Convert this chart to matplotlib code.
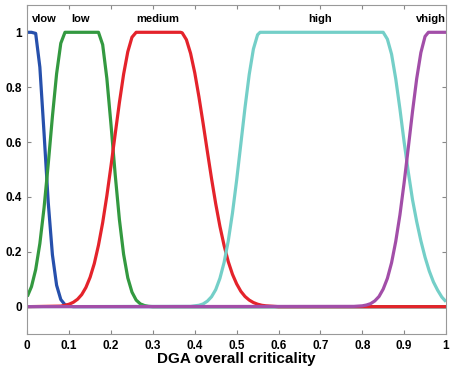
import matplotlib
matplotlib.use("Agg")
import matplotlib.pyplot as plt

# membership functions (x: criticality, y: membership)
vlow_x = [0.0, 0.01, 0.02, 0.03, 0.04, 0.05, 0.06, 0.07, 0.08, 0.09, 0.10, 0.11, 1.0]
vlow_y = [1.0, 1.0, 0.996, 0.873, 0.633, 0.380, 0.189, 0.078, 0.026, 0.007, 0.002, 0.0, 0.0]

low_x = [0.0, 0.01, 0.02, 0.03, 0.04, 0.05, 0.06, 0.07, 0.08, 0.09, 0.17,
         0.18, 0.19, 0.20, 0.21, 0.22, 0.23, 0.24, 0.25, 0.26, 0.27, 0.28, 0.29, 0.30, 1.0]
low_y = [0.037, 0.073, 0.135, 0.230, 0.360, 0.520, 0.693, 0.849, 0.960, 1.0, 1.0,
         0.955, 0.832, 0.662, 0.480, 0.317, 0.191, 0.105, 0.053, 0.024, 0.010, 0.004, 0.001, 0.0, 0.0]

medium_x = [0.0, 0.08, 0.09, 0.10, 0.11, 0.12, 0.13, 0.14, 0.15, 0.16, 0.17, 0.18, 0.19,
            0.20, 0.21, 0.22, 0.23, 0.24, 0.25, 0.26, 0.366,
            0.37, 0.38, 0.39, 0.40, 0.41, 0.42, 0.43, 0.44, 0.45, 0.46, 0.47, 0.48, 0.49,
            0.50, 0.51, 0.52, 0.53, 0.54, 0.55, 0.56, 0.57, 0.58, 0.60, 1.0]
medium_y = [0.0, 0.002, 0.005, 0.009, 0.016, 0.027, 0.044, 0.070, 0.107, 0.157, 0.224, 0.306, 0.404,
            0.514, 0.630, 0.744, 0.847, 0.929, 0.982, 1.0, 1.0,
            0.998, 0.973, 0.923, 0.852, 0.764, 0.667, 0.566, 0.467, 0.375, 0.293, 0.223, 0.164, 0.118,
            0.083, 0.056, 0.037, 0.024, 0.015, 0.009, 0.005, 0.003, 0.002, 0.0, 0.0]

high_x = [0.0, 0.39, 0.40, 0.41, 0.42, 0.43, 0.44, 0.45, 0.46, 0.47, 0.48, 0.49, 0.50,
          0.51, 0.52, 0.53, 0.54, 0.55, 0.556, 0.85,
          0.86, 0.87, 0.88, 0.89, 0.90, 0.91, 0.92, 0.93, 0.94, 0.95, 0.96, 0.97, 0.98, 0.99, 1.0]
high_y = [0.0, 0.001, 0.003, 0.005, 0.010, 0.020, 0.036, 0.062, 0.103, 0.161, 0.240, 0.341, 0.461,
          0.593, 0.726, 0.846, 0.939, 0.991, 1.0, 1.0,
          0.975, 0.92, 0.83, 0.72, 0.60, 0.49, 0.39, 0.31, 0.24, 0.18, 0.13, 0.09, 0.06, 0.035, 0.018]

vhigh_x = [0.0, 0.78, 0.80, 0.81, 0.82, 0.83, 0.84, 0.85, 0.86, 0.87, 0.88, 0.89, 0.90,
           0.91, 0.92, 0.93, 0.94, 0.95, 0.958, 1.0]
vhigh_y = [0.0, 0.001, 0.003, 0.006, 0.011, 0.021, 0.037, 0.064, 0.103, 0.160, 0.238, 0.335, 0.452,
           0.580, 0.711, 0.831, 0.926, 0.985, 1.0, 1.0]

names = ["vlow", "low", "medium", "high", "vhigh"]
name_x = [0.04, 0.126, 0.312, 0.70, 0.964]
colors = ["#2650ac", "#339940", "#e4232b", "#74cfc8", "#a24ea8"]

fig = plt.figure(figsize=(4.58, 3.74), dpi=100)
ax = fig.add_axes([0.0596, 0.1067, 0.9142, 0.8803])

curves = [(vlow_x, vlow_y), (low_x, low_y), (medium_x, medium_y), (high_x, high_y), (vhigh_x, vhigh_y)]
for (xs, ys), c in zip(curves, colors):
    ax.plot(xs, ys, color=c, lw=2.3, solid_capstyle="butt", solid_joinstyle="round")

for nm, nx in zip(names, name_x):
    ax.text(nx, 1.047, nm, ha="center", va="center", fontsize=8,
            fontweight="bold", family="Liberation Sans")

ax.set_xlim(0, 1)
ax.set_ylim(-0.1, 1.1)
ax.set_xticks([0, 0.1, 0.2, 0.3, 0.4, 0.5, 0.6, 0.7, 0.8, 0.9, 1])
ax.set_xticklabels(["0", "0.1", "0.2", "0.3", "0.4", "0.5", "0.6", "0.7", "0.8", "0.9", "1"])
ax.set_yticks([0, 0.2, 0.4, 0.6, 0.8, 1])
ax.set_yticklabels(["0", "0.2", "0.4", "0.6", "0.8", "1"])
ax.tick_params(direction="in", length=3, width=0.8, color="#888888",
               top=True, right=True, labelsize=8.5, pad=4)
for lab in ax.get_xticklabels() + ax.get_yticklabels():
    lab.set_fontweight("bold")
    lab.set_family("Liberation Sans")
for sp in ax.spines.values():
    sp.set_color("#999999")
    sp.set_linewidth(0.8)
ax.set_xlabel("DGA overall criticality", fontsize=11, fontweight="bold",
              family="Liberation Sans", labelpad=0)

fig.savefig("out.png", dpi=100)
